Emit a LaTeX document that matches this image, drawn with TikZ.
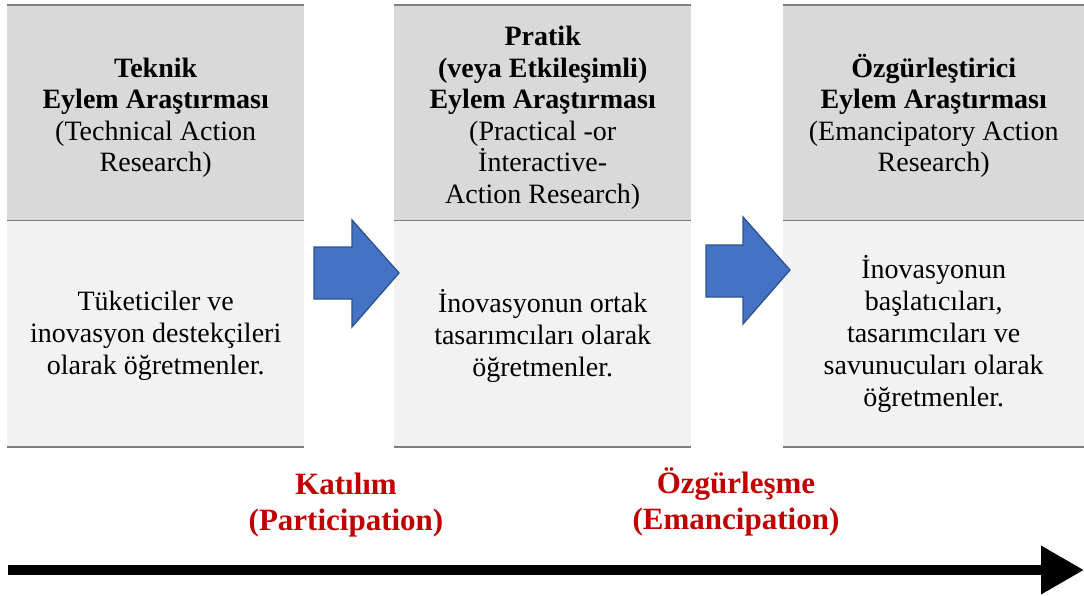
\documentclass[tikz,border=0pt]{standalone}
\usepackage{fontspec}
\setmainfont{Liberation Serif}
\usetikzlibrary{arrows.meta}
\definecolor{headgray}{HTML}{D9D9D9}
\definecolor{bodygray}{HTML}{F2F2F2}
\definecolor{rulegray}{HTML}{7F7F7F}
\definecolor{arrowblue}{HTML}{4472C4}
\definecolor{arrowedge}{HTML}{2F528F}
\definecolor{darkred}{HTML}{C00000}
\begin{document}
\begin{tikzpicture}[x=1pt,y=-1pt,
  headbox/.style={fill=headgray, minimum width=297pt, minimum height=215pt,
    inner sep=0pt, anchor=north west},
  bodybox/.style={fill=bodygray, minimum width=297pt, minimum height=226pt,
    inner sep=0pt, anchor=north west},
  headtext/.style={align=center, inner sep=0pt, font=\fontsize{28}{31.5}\selectfont},
  bodytext/.style={align=center, inner sep=0pt, font=\fontsize{28}{32}\selectfont},
  rule/.style={draw=rulegray, line width=1.6pt},
  blockarrow/.style={fill=arrowblue, draw=arrowedge, line width=1.3pt, line join=miter},
  stage/.style={text=darkred, align=center, font=\bfseries\fontsize{31}{36}\selectfont},
  timeline/.style={line width=10pt, -{Triangle[length=43pt,width=46pt]}}
]
\useasboundingbox (0,0) rectangle (1084,596);

% table cells
\node[headbox] (h1) at (7,5) {};
\node[headbox] (h2) at (394,5) {};
\node[headbox, minimum width=301pt] (h3) at (783,5) {};
\node[bodybox] (b1) at (h1.south west) {};
\node[bodybox] (b2) at (h2.south west) {};
\node[bodybox, minimum width=301pt] (b3) at (h3.south west) {};

% header texts (the y axis points down, so a negative yshift lowers the text)
\node[headtext] (ht1) at ([yshift=-5pt]h1.center)
  {\textbf{Teknik}\\ \textbf{Eylem Araştırması}\\ (Technical Action\\ Research)};
\node[headtext] (ht2) at ([yshift=-5pt]h2.center)
  {\textbf{Pratik}\\ \textbf{(veya Etkileşimli)}\\ \textbf{Eylem Araştırması}\\
   (Practical -or\\ İnteractive-\\ Action Research)};
\node[headtext] (ht3) at ([yshift=-3pt]h3.center)
  {\textbf{Özgürleştirici}\\ \textbf{Eylem Araştırması}\\ (Emancipatory Action\\ Research)};

% body texts
\node[bodytext] (bt1) at ([yshift=-2.5pt]b1.center)
  {Tüketiciler ve\\ inovasyon destekçileri\\ olarak öğretmenler.};
\node[bodytext] (bt2) at ([yshift=-2pt]b2.center)
  {İnovasyonun ortak\\ tasarımcıları olarak\\ öğretmenler.};
\node[bodytext] (bt3) at ([yshift=-0.5pt]b3.center)
  {İnovasyonun\\ başlatıcıları,\\ tasarımcıları ve\\ savunucuları olarak\\ öğretmenler.};

% horizontal rules of the table
\foreach \c in {1,2,3} {
  \draw[rule] (h\c.north west) -- (h\c.north east);
  \draw[rule] (h\c.south west) -- (h\c.south east);
  \draw[rule] (b\c.south west) -- (b\c.south east);
}

% block arrows between the columns
\draw[blockarrow] (314,247) -- (352,247) -- (352,220) -- (399,273)
  -- (352,327) -- (352,299) -- (314,299) -- cycle;
\draw[blockarrow] (706,245) -- (743,245) -- (743,217) -- (790,270)
  -- (743,324) -- (743,297) -- (706,297) -- cycle;

% stage labels
\node[stage] (s1) at (346,505) {Katılım\\ (Participation)};
\node[stage] (s2) at (736,502) {Özgürleşme\\ (Emancipation)};

% timeline arrow
\coordinate (tstart) at (8,570);
\coordinate (tend) at (1084,570);
\draw[timeline] (tstart) -- (tend);
\end{tikzpicture}
\end{document}
